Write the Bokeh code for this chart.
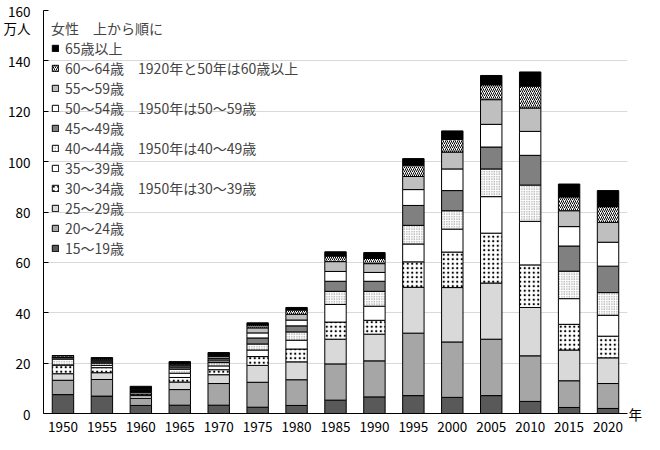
from bokeh.plotting import figure
from bokeh.models import Legend, LegendItem, FixedTicker, Range1d, ColumnDataSource, LinearAxis
from bokeh.embed import file_html
from bokeh.resources import INLINE

years = ["1950", "1955", "1960", "1965", "1970", "1975", "1980", "1985",
         "1990", "1995", "2000", "2005", "2010", "2015", "2020"]

age_15_19 = [7.5, 6.9, 3.2, 3.3, 3.3, 2.5, 3.2, 5.3, 6.6, 7.1, 6.4, 7.1, 4.8, 2.4, 2.0]
age_20_24 = [5.7, 6.6, 2.8, 6.2, 8.6, 9.9, 10.2, 14.4, 14.3, 24.8, 22.0, 22.4, 18.1, 10.6, 9.9]
age_25_29 = [2.6, 2.7, 1.1, 3.0, 3.5, 6.7, 7.1, 9.8, 10.6, 18.2, 21.6, 22.3, 19.2, 12.2, 10.2]
age_30_34 = [3.5, 2.0, 0.6, 1.8, 2.0, 3.5, 5.1, 6.8, 5.5, 10.1, 14.1, 19.8, 16.9, 10.2, 8.6]
age_35_39 = [0.0, 0.9, 0.6, 1.7, 1.5, 2.6, 3.5, 7.0, 5.6, 7.1, 9.1, 14.5, 17.3, 10.2, 8.3]
age_40_44 = [2.4, 0.9, 0.4, 1.6, 1.3, 2.4, 3.3, 5.2, 5.9, 7.4, 7.3, 11.0, 14.4, 10.9, 9.0]
age_45_49 = [0.0, 0.5, 0.4, 0.8, 1.1, 2.4, 2.4, 4.0, 4.0, 7.9, 8.0, 8.7, 11.8, 10.0, 10.5]
age_50_54 = [0.7, 0.4, 0.3, 0.5, 0.6, 2.0, 2.3, 3.9, 3.5, 6.3, 8.6, 9.0, 9.5, 7.7, 9.5]
age_55_59 = [0.0, 0.4, 0.3, 0.4, 0.7, 2.0, 2.3, 3.9, 3.5, 5.2, 6.7, 9.8, 9.3, 6.3, 7.9]
age_60_64 = [0.6, 0.4, 0.3, 0.4, 0.5, 1.1, 1.7, 2.2, 2.1, 4.5, 5.0, 5.9, 8.7, 5.5, 6.2]
age_65_up = [0.0, 0.5, 0.8, 0.9, 1.1, 0.9, 1.0, 1.7, 2.3, 2.6, 3.4, 3.7, 5.6, 5.1, 6.4]

series_labels = ["15～19歳", "20～24歳", "25～29歳", "30～34歳　1950年は30～39歳", "35～39歳",
                 "40～44歳　1950年は40～49歳", "45～49歳", "50～54歳　1950年は50～59歳", "55～59歳",
                 "60～64歳　1920年と50年は60歳以上", "65歳以上"]
legend_title = "女性　上から順に"
y_ticks = [0, 20, 40, 60, 80, 100, 120, 140, 160]
y_unit = "万人"
y_unit_pos = 153
x_unit = "年"

keys = ["a15", "a20", "a25", "a30", "a35", "a40", "a45", "a50", "a55", "a60", "a65"]
series = [age_15_19, age_20_24, age_25_29, age_30_34, age_35_39, age_40_44,
          age_45_49, age_50_54, age_55_59, age_60_64, age_65_up]

data = {"year": years}
for k, s in zip(keys, series):
    data[k] = s
source = ColumnDataSource(data)

fills = ["#595959", "#a6a6a6", "#d9d9d9", "white", "white", "white",
         "#808080", "white", "#bfbfbf", "white", "black"]
hatches = [" ", " ", " ", ".", " ", ".", " ", " ", " ", "/", " "]
hatch_colors = ["black", "black", "black", "black", "black", "#777777",
                "black", "black", "black", "black", "black"]
hatch_scales = [6, 6, 6, 4.5, 6, 2.5, 6, 6, 6, 4, 6]
hatch_weights = [1, 1, 1, 0.5, 1, 1, 1, 1, 1, 1, 1]

FONT = "Noto Sans CJK JP"

p = figure(x_range=years, y_range=Range1d(0, 160), width=644, height=434,
           output_backend="svg", toolbar_location=None,
           min_border_left=41, min_border_right=6, min_border_top=10, min_border_bottom=21)
p.outline_line_color = None
p.background_fill_color = "white"
p.border_fill_color = "white"

renderers = p.vbar_stack(keys, x="year", width=0.55, source=source,
                         fill_color=fills, line_color="black", line_width=1,
                         hatch_pattern=hatches, hatch_color=hatch_colors,
                         hatch_scale=hatch_scales, hatch_weight=hatch_weights)

p.xgrid.grid_line_color = None
p.ygrid.ticker = FixedTicker(ticks=y_ticks)
p.ygrid.grid_line_color = "#d9d9d9"
p.ygrid.grid_line_width = 1.2

p.yaxis.ticker = FixedTicker(ticks=y_ticks + [y_unit_pos], minor_ticks=y_ticks)
p.yaxis.major_label_overrides = {y_unit_pos: y_unit}
p.yaxis.major_tick_in = 0
p.yaxis.major_tick_out = 0
p.yaxis.minor_tick_in = 5
p.yaxis.minor_tick_out = 0
p.yaxis.minor_tick_line_color = "black"
p.yaxis.major_label_standoff = 13
p.yaxis.axis_line_color = "black"

p.xaxis.major_tick_line_color = None
p.xaxis.major_label_standoff = 2
p.xaxis.axis_line_color = "black"
for ax in (p.xaxis, p.yaxis):
    ax.major_label_text_font = FONT
    ax.major_label_text_font_size = "13.5px"
    ax.major_label_text_color = "black"

unit_axis = LinearAxis(ticker=FixedTicker(ticks=[0]), major_label_overrides={0: x_unit},
                       axis_line_color=None, major_tick_line_color=None,
                       minor_tick_line_color=None, major_tick_in=0, major_tick_out=0,
                       major_label_standoff=1, major_label_text_font=FONT,
                       major_label_text_font_size="13.5px", major_label_text_color="black",
                       major_label_text_baseline="top")
p.add_layout(unit_axis, "right")

items = [LegendItem(label=lab, renderers=[r]) for lab, r in zip(series_labels, renderers)]
items = items[::-1]
legend = Legend(items=items, location="top_left", title=legend_title,
                title_text_font=FONT, title_text_font_size="14px", title_text_font_style="normal",
                title_standoff=0,
                label_text_font=FONT, label_text_font_size="14px", label_text_line_height=1.0,
                glyph_width=8, glyph_height=8, label_standoff=6,
                label_height=18, spacing=0, padding=6, margin=2,
                background_fill_alpha=0, border_line_alpha=0)
p.add_layout(legend)

open("out.html", "w").write(file_html(p, INLINE))
